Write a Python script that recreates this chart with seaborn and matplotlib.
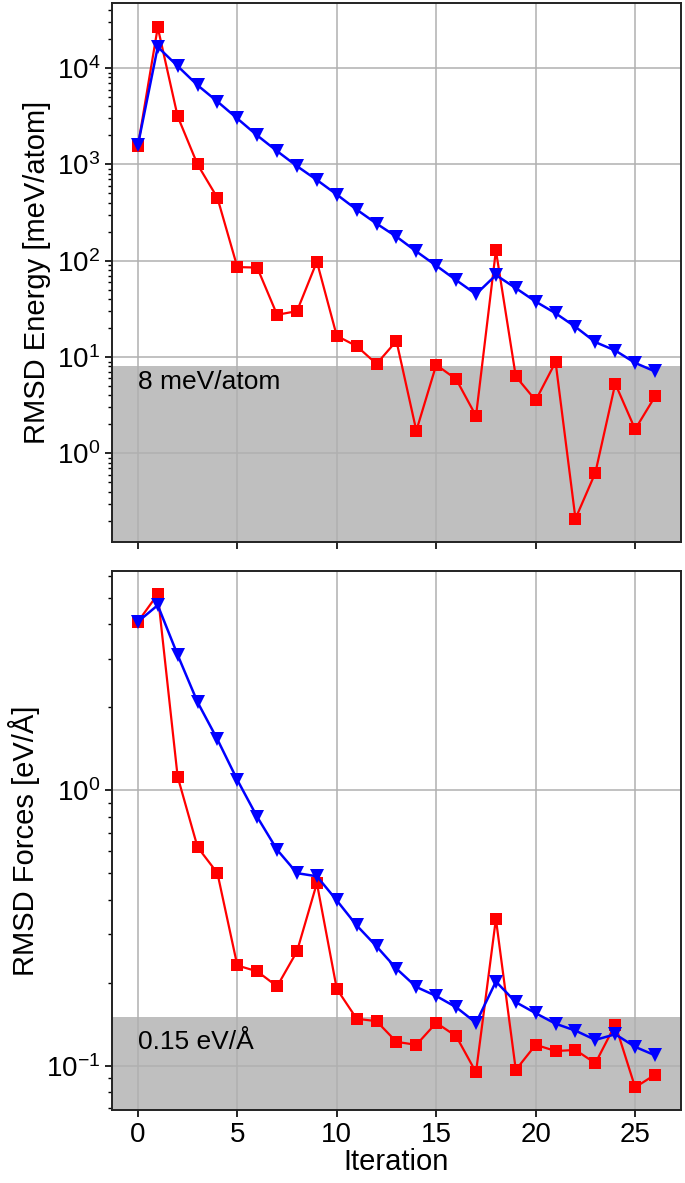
import seaborn as sns
import matplotlib
matplotlib.use("Agg")
import matplotlib.pyplot as plt
import matplotlib.ticker as mticker
import pandas as pd

iters = list(range(27))
energy_red = [1540, 26500, 3160, 1000, 450, 86, 85, 27.5, 30, 98, 16.6, 13, 8.5, 14.7,
              1.72, 8.3, 5.9, 2.45, 128, 6.3, 3.55, 8.9, 0.21, 0.63, 5.3, 1.78, 3.9]
energy_blue = [1580, 16600, 10500, 6650, 4500, 3000, 2000, 1375, 960, 690, 487, 340, 243,
               178, 125, 89, 63, 45, 71, 52, 37.7, 28.5, 20.6, 14.3, 11.7, 8.7, 7.1]
force_red = [4.09, 5.15, 1.12, 0.622, 0.50, 0.231, 0.22, 0.194, 0.26, 0.46, 0.19, 0.148,
             0.145, 0.122, 0.119, 0.143, 0.128, 0.0946, 0.341, 0.0965, 0.119, 0.113,
             0.114, 0.102, 0.141, 0.0834, 0.0927]
force_blue = [4.09, 4.7, 3.1, 2.09, 1.53, 1.09, 0.80, 0.608, 0.50, 0.487, 0.398, 0.323,
              0.271, 0.225, 0.193, 0.179, 0.163, 0.143, 0.202, 0.17, 0.155, 0.142, 0.134,
              0.124, 0.130, 0.117, 0.109]
energy_thr = 8
force_thr = 0.15

df = pd.DataFrame({"iter": iters, "e_red": energy_red, "e_blue": energy_blue,
                   "f_red": force_red, "f_blue": force_blue})

sns.set_style("ticks")
plt.rcParams["font.family"] = ["Liberation Sans", "DejaVu Sans"]
plt.rcParams["axes.axisbelow"] = "line"
plt.rcParams["axes.linewidth"] = 1.4
for k in ["text.color", "axes.labelcolor", "xtick.color", "ytick.color"]:
    plt.rcParams[k] = "black"

fig, (ax1, ax2) = plt.subplots(2, 1, figsize=(6.85, 11.83), dpi=100, sharex=True)
fig.subplots_adjust(left=0.1635, right=0.994, top=0.9975, bottom=0.0617, hspace=0.052)

panels = [
    (ax1, "e_red", "e_blue", energy_thr, (0.119, 4.75e4), "RMSD Energy [meV/atom]", "8 meV/atom", 5.5),
    (ax2, "f_red", "f_blue", force_thr, (0.069, 6.28), "RMSD Forces [eV/Å]", "0.15 eV/Å", 0.122),
]

for ax, red, blue, thr, ylim, ylabel, note, note_y in panels:
    ax.set_yscale("log")
    ax.axhspan(ylim[0] * 0.1, thr, color="#bfbfbf", lw=0, zorder=1)
    sns.lineplot(data=df, x="iter", y=red, ax=ax, color="red", marker="s", ms=9,
                 mec="red", mew=0, lw=1.6, zorder=3)
    sns.lineplot(data=df, x="iter", y=blue, ax=ax, color="blue", marker="v", ms=10,
                 mec="blue", mew=0, lw=1.8, zorder=4)
    ax.set_ylim(*ylim)
    ax.grid(True, which="major", color="#b0b0b0", lw=1.1, zorder=2)
    ax.set_ylabel(ylabel, fontsize=21)
    ax.set_xlabel("")
    ax.text(0, note_y, note, fontsize=19, ha="left", va="center", zorder=5)
    ax.yaxis.set_minor_formatter(mticker.NullFormatter())
    ax.tick_params(axis="both", which="major", labelsize=20, direction="out",
                   length=5, width=1.2, colors="black")
    ax.tick_params(axis="y", which="minor", direction="out", length=3, width=1)
    for s in ax.spines.values():
        s.set_visible(True)
        s.set_color("#222222")

ax2.set_xticks([0, 5, 10, 15, 20, 25])
ax2.set_xlabel("Iteration", fontsize=21, labelpad=0)

fig.savefig("out.png", dpi=100)
